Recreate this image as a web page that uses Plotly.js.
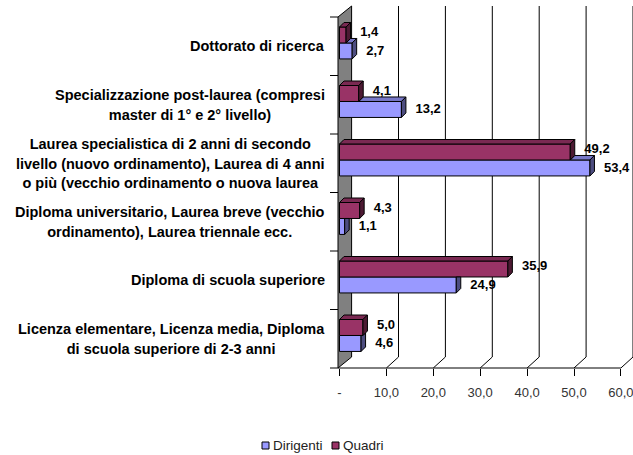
<!DOCTYPE html>
<html><head><meta charset="utf-8">
<script src="https://cdn.plot.ly/plotly-3.0.1.min.js"></script>
<style>html,body{margin:0;padding:0;background:#fff}#chart{width:633px;height:455px}</style>
</head><body><div id="chart"></div>
<script>
// ---- data ----
const categories = [
  "Dottorato di ricerca",
  "Specializzazione post-laurea (compresi<br>master di 1° e 2° livello)",
  "Laurea specialistica di 2 anni di secondo<br>livello (nuovo ordinamento), Laurea di 4 anni<br>o più (vecchio ordinamento o nuova laurea",
  "Diploma universitario, Laurea breve (vecchio<br>ordinamento), Laurea triennale ecc.",
  "Diploma di scuola superiore",
  "Licenza elementare, Licenza media, Diploma<br>di scuola superiore di 2-3 anni"
];
const dirigenti = [2.7, 13.2, 53.4, 1.1, 24.9, 4.6];
const quadri = [1.4, 4.1, 49.2, 4.3, 35.9, 5.0];
const seriesNames = ["Dirigenti", "Quadri"];
const tickVals = [0, 10, 20, 30, 40, 50, 60];
const tickText = ["-", "10,0", "20,0", "30,0", "40,0", "50,0", "60,0"];

// ---- geometry / style ----
const L = 330, R = 633, T = 17, B = 368;
const S = 4.69, X0 = 339.5;
const n = categories.length;
const CAT_PX = (B - T) / n;
const BW = 0.273, OFF_Q = -0.329, OFF_D = OFF_Q + BW;
const DEPTH = 4.5, dX = DEPTH / S, dY = DEPTH / CAT_PX;
const WALL_FX = 338, WALL_BX = 351.6, WALL_DY = 11;
const FONT = "Liberation Sans, Arial, sans-serif";
const COL = {
  dir: {front: "#9999FF", top: "#7878c8", side: "#4d4d80"},
  qua: {front: "#993366", top: "#7a2952", side: "#4d1a33"}
};
const LEGEND_PX = [262, 332], LEGEND_Y = 445, LEGEND_SQ = 7;
const idx = categories.map((c, i) => i);
const fmt = v => v.toFixed(1).replace(".", ",");
const px2x = p => (p - X0) / S;
const pX = p => (p - L) / (R - L);
const pY = p => (B - p) / (B - T);

// ---- 3D faces built from values ----
function build(fn) {
  const xs = [], ys = [];
  idx.forEach(i => {
    const pts = fn(i);
    if (!pts) return;
    pts.forEach(p => { xs.push(p[0]); ys.push(p[1]); });
    xs.push(pts[0][0]); ys.push(pts[0][1]);
    xs.push(null); ys.push(null);
  });
  return {xs, ys};
}
const yq0 = i => i + OFF_Q, yd0 = i => i + OFF_D, yd1 = i => i + OFF_D + BW;

const dirTop = build(i => {
  const D = dirigenti[i], Q = quadri[i];
  if (D <= Q) return null;
  return [[Q, yd0(i)], [D, yd0(i)], [D + dX, yd0(i) - dY], [Q + dX, yd0(i) - dY]];
});
const dirSide = build(i => {
  const D = dirigenti[i], Q = quadri[i];
  const c = Math.min(Math.max(Q, D), D + dX);
  const yTR = yd0(i) - dY * (D + dX - c) / dX;
  return [[D, yd0(i)], [D, yd1(i)], [D + dX, yd1(i) - dY], [D + dX, yTR], [c, yd0(i)]];
});
const quaTop = build(i => {
  const Q = quadri[i];
  return [[0, yq0(i)], [Q, yq0(i)], [Q + dX, yq0(i) - dY], [dX, yq0(i) - dY]];
});
const quaSide = build(i => {
  const Q = quadri[i];
  return [[Q, yq0(i)], [Q, yd0(i)], [Q + dX, yd0(i) - dY], [Q + dX, yq0(i) - dY]];
});
function face(f, color) {
  return {type: "scatter", mode: "lines", x: f.xs, y: f.ys, fill: "toself", fillcolor: color,
    line: {color: "#000", width: 1}, hoverinfo: "skip", showlegend: false, connectgaps: false};
}

const LABEL_GAP = 3.0;
const labelFont = {family: FONT, size: 13, color: "#000", weight: "bold"};
const traces = [
  face(dirTop, COL.dir.top),
  face(dirSide, COL.dir.side),
  face(quaTop, COL.qua.top),
  face(quaSide, COL.qua.side),
  {type: "bar", orientation: "h", name: seriesNames[0], y: idx, x: dirigenti, width: BW, offset: OFF_D,
   marker: {color: COL.dir.front, line: {color: "#000", width: 1}}, hoverinfo: "x"},
  {type: "bar", orientation: "h", name: seriesNames[1], y: idx, x: quadri, width: BW, offset: OFF_Q,
   marker: {color: COL.qua.front, line: {color: "#000", width: 1}}, hoverinfo: "x"},
  {type: "scatter", mode: "text", showlegend: false, hoverinfo: "skip", cliponaxis: false,
   x: quadri.map(v => v + LABEL_GAP), y: idx.map(i => i + OFF_Q + BW / 2 - 2 / CAT_PX),
   text: quadri.map(fmt), textposition: "middle right", textfont: labelFont},
  {type: "scatter", mode: "text", showlegend: false, hoverinfo: "skip", cliponaxis: false,
   x: dirigenti.map(v => v + LABEL_GAP), y: idx.map(i => i + OFF_D + BW / 2 + 0.5 / CAT_PX),
   text: dirigenti.map(fmt), textposition: "middle right", textfont: labelFont}
];

// ---- decorations: wall, back gridlines, axis lines ----
const shapes = [];
shapes.push({type: "path", xref: "paper", yref: "paper", layer: "below",
  path: `M${pX(WALL_FX)},${pY(B)} L${pX(WALL_FX)},${pY(T)} L${pX(WALL_BX)},${pY(T - WALL_DY)} L${pX(WALL_BX)},${pY(B - WALL_DY)} Z`,
  fillcolor: "#808080", line: {color: "#000", width: 1}});
tickVals.filter(v => v > 0).forEach(v => {
  const bx = WALL_BX + v * S, fx = X0 + v * S;
  shapes.push({type: "path", xref: "paper", yref: "paper", layer: "below",
    path: `M${pX(bx)},${pY(T - WALL_DY)} L${pX(bx)},${pY(B - WALL_DY)} L${pX(fx)},${pY(B)}`,
    line: {color: "#000", width: 1}});
});
shapes.push({type: "line", xref: "paper", yref: "paper", layer: "below",
  x0: pX(WALL_FX), x1: pX(X0 + tickVals[tickVals.length - 1] * S), y0: pY(B), y1: pY(B),
  line: {color: "#000", width: 1}});
for (let k = 0; k <= n; k++) {
  const y = T + k * CAT_PX;
  shapes.push({type: "line", xref: "paper", yref: "paper", x0: pX(L), x1: pX(WALL_FX), y0: pY(y), y1: pY(y),
    line: {color: "#000", width: 1}});
}

// ---- category labels ----
const annotations = categories.map((c, i) => ({
  xref: "paper", yref: "y", x: pX(327), y: i, xanchor: "right", yanchor: "middle",
  align: "center", showarrow: false,
  text: c.split("<br>").map(s => `<span style="font-size:14.5px">${s}</span>`).join("<br>"),
  font: {family: FONT, size: 15, color: "#000", weight: "bold"}
}));

// ---- legend (series names with colour keys) ----
const legendCols = [COL.dir.front, COL.qua.front];
seriesNames.forEach((name, k) => {
  const x = LEGEND_PX[k];
  shapes.push({type: "rect", xref: "paper", yref: "paper",
    x0: pX(x), x1: pX(x + LEGEND_SQ), y0: pY(LEGEND_Y - LEGEND_SQ / 2 + 0.5), y1: pY(LEGEND_Y + LEGEND_SQ / 2 + 0.5),
    fillcolor: legendCols[k], line: {color: "#000", width: 1}});
  annotations.push({xref: "paper", yref: "paper", x: pX(x + LEGEND_SQ + 2), y: pY(LEGEND_Y),
    xanchor: "left", yanchor: "middle", showarrow: false, text: name,
    font: {family: FONT, size: 13.5, color: "#222"}});
});

const layout = {
  width: 633, height: 455,
  margin: {l: L, r: 633 - R, t: T, b: 455 - B, pad: 0},
  paper_bgcolor: "#fff", plot_bgcolor: "rgba(0,0,0,0)",
  barmode: "overlay",
  xaxis: {range: [px2x(L), px2x(R)], tickvals: tickVals, ticktext: tickText, ticks: "outside",
    ticklen: 7, tickcolor: "#000", tickwidth: 1, showgrid: false, zeroline: false, showline: false,
    ticklabelstandoff: 5, ticklabeloverflow: "allow",
    tickfont: {family: FONT, size: 13, color: "#333"}, fixedrange: true},
  yaxis: {range: [n - 0.5, -0.5], showticklabels: false, ticks: "", showgrid: false,
    zeroline: false, showline: false, fixedrange: true},
  showlegend: false,
  shapes, annotations
};
Plotly.newPlot("chart", traces, layout, {displayModeBar: false, staticPlot: true});
</script></body></html>
